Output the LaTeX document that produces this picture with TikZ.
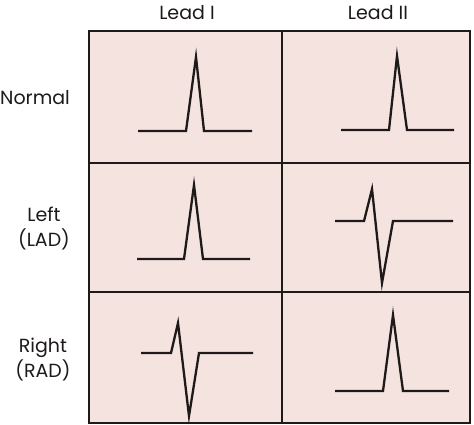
\documentclass[tikz,border=0pt]{standalone}
\usepackage{fontspec}
\setmainfont{Poppins}
\usepackage{tikz}
\usetikzlibrary{positioning}
\definecolor{paperpink}{RGB}{245,227,223}
\definecolor{inkline}{RGB}{30,26,26}

\tikzset{
  gridline/.style={draw=inkline, line width=1.7pt},
  trace/.style={draw=inkline, line width=2.3pt, line join=miter, line cap=butt},
  leadlabel/.style={font=\fontsize{19}{22}\selectfont, text=inkline},
  rowlabel/.style={font=\fontsize{19}{25}\selectfont, text=inkline, align=center}
}

\begin{document}
\begin{tikzpicture}[x=1pt, y=-1pt]
  \useasboundingbox (0,0) rectangle (474,425);
  % panel background and grid
  \fill[paperpink] (89,31) rectangle (470,423);
  \draw[gridline] (89,31) rectangle (470,423);
  \draw[gridline] (282,31) -- (282,423);
  \draw[gridline] (89,163) -- (470,163);
  \draw[gridline] (89,292) -- (470,292);
  % column and row headings
  \node[leadlabel] (leadone) at (187,13) {Lead I};
  \node[leadlabel] (leadtwo) at (378,13) {Lead II};
  \node[rowlabel] (normal) at (35,98) {Normal};
  \node[rowlabel] (lad) at (44,229) {Left\\(LAD)};
  \node[rowlabel] (rad) at (43,360) {Right\\(RAD)};
  % normal axis
  \draw[trace] (138,131) -- (186,131) -- (196,57) -- (204,131) -- (252,131);
  \draw[trace] (341,130) -- (389,130) -- (397,56) -- (407,130) -- (454,130);
  % left axis deviation
  \draw[trace] (137,259) -- (184,259) -- (194,185) -- (203,259) -- (250,259);
  \draw[trace] (335,221) -- (364,221) -- (372,189) -- (382,283) -- (393,221) -- (453,221);
  % right axis deviation
  \draw[trace] (141,353) -- (171,353) -- (178,323) -- (189,416) -- (199,353) -- (253,353);
  \draw[trace] (335,391) -- (383,391) -- (393,315) -- (403,391) -- (449,391);
\end{tikzpicture}
\end{document}
